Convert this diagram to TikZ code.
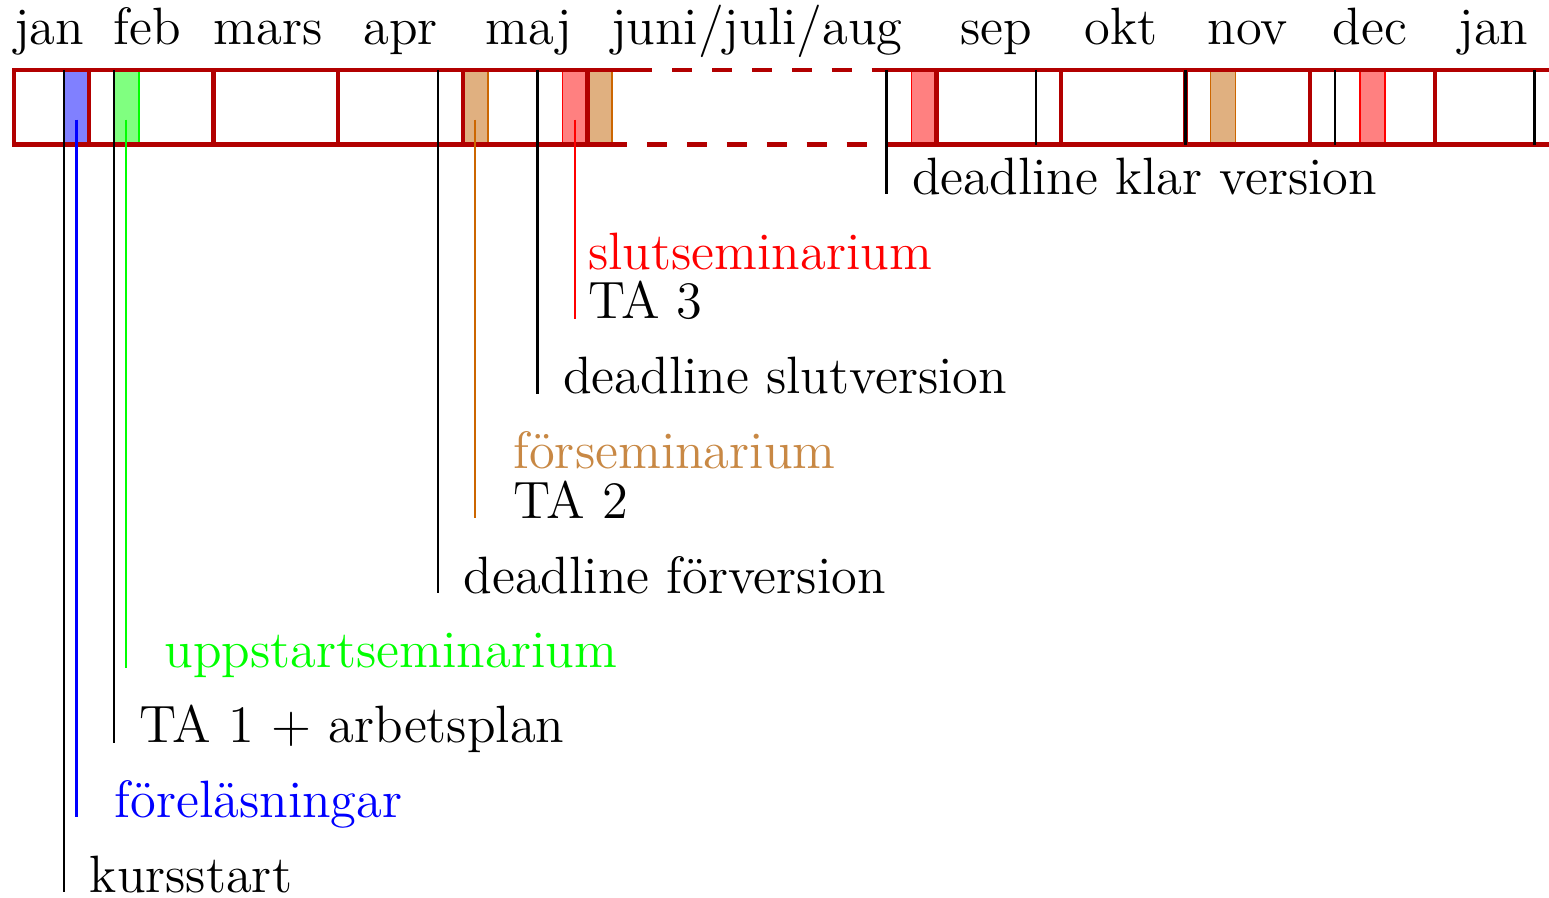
\documentclass[12pt,tikz,border=0pt]{standalone}
\usepackage{fontspec}
\usepackage{tikz}
\usetikzlibrary{positioning,calc}

\definecolor{barred}{rgb}{0.7,0,0}
\definecolor{semline}{RGB}{204,102,0}
\definecolor{semfill}{RGB}{224,176,128}
\definecolor{semtext}{RGB}{200,136,68}

\begin{document}
\begin{tikzpicture}[
  every node/.style={inner sep=0pt},
  lbl/.style={anchor=base west},
  month/.style={anchor=base},
  bar/.style={line width=1pt, barred},
  summer/.style={bar, dash pattern=on 0.16cm off 0.16cm},
  tick/.style={line width=0.5pt},
]
  \useasboundingbox (0.286,-6.04) rectangle (12.717,1.16);

  % seminar weeks
  \filldraw[draw=blue, fill=blue!50] (0.8,0) rectangle (1.0,0.6);
  \filldraw[draw=green, fill=green!50] (1.2,0) rectangle (1.4,0.6);
  \filldraw[draw=semline, fill=semfill] (4.0,0) rectangle (4.2,0.6);
  \filldraw[draw=red, fill=red!50] (4.8,0) rectangle (5.0,0.6);
  \filldraw[draw=semline, fill=semfill] (5.0,0) rectangle (5.2,0.6);
  \filldraw[draw=red, fill=red!50] (7.6,0) rectangle (7.8,0.6);
  \filldraw[draw=semline, fill=semfill] (10.0,0) rectangle (10.2,0.6);
  \filldraw[draw=red, fill=red!50] (11.2,0) rectangle (11.4,0.6);

  % months
  \foreach \a/\b in {0.4/1,1/2,2/3,3/4,4/5,7.8/8.8,8.8/9.8,9.8/10.8,10.8/11.8,11.8/12.8}
    \draw[bar] (\a,0) rectangle (\b,0.6);
  \draw[bar] (5,0.6) -- (5.52,0.6) (7.28,0.6) -- (7.8,0.6);
  \draw[bar] (5,0) -- (5.32,0) (7.4,0) -- (7.8,0);
  \draw[summer] (5.68,0.6) -- (7.12,0.6);
  \draw[summer] (5.48,0) -- (7.24,0);

  \foreach \x/\m [count=\i] in {0.68/jan,1.47/feb,2.44/mars,3.5/apr,4.53/maj,
      6.36/{juni/juli/aug},8.28/sep,9.28/okt,10.3/nov,11.28/dec,12.27/jan}
    \node[month] (m\i) at (\x,0.8) {\m};

  % events
  \node[lbl] (kursstart) at (1.0,-6.0) {kursstart};
  \node[lbl, blue] (forel) at (1.2,-5.4) {föreläsningar};
  \node[lbl] (ta1) at (1.4,-4.8) {TA 1 $+$ arbetsplan};
  \node[lbl, green] (uppstart) at (1.6,-4.2) {uppstartseminarium};
  \node[lbl] (forversion) at (4.0,-3.6) {deadline förversion};
  \node[lbl] (ta2) at (4.4,-3.0) {TA 2};
  \node[lbl, semtext] (forsem) at (4.4,-2.6) {förseminarium};
  \node[lbl] (slutversion) at (4.8,-2.0) {deadline slutversion};
  \node[lbl] (ta3) at (5.0,-1.4) {TA 3};
  \node[lbl, red] (slutsem) at (5.0,-1.0) {slutseminarium};
  \node[lbl] (klar) at (7.6,-0.4) {deadline klar version};

  \coordinate (kursstart top) at (0.8,0.6);
  \coordinate (forel top) at (0.9,0.2);
  \coordinate (ta1 top) at (1.2,0.6);
  \coordinate (uppstart top) at (1.3,0.2);
  \coordinate (forversion top) at (3.8,0.6);
  \coordinate (ta2 top) at (4.1,0.2);
  \coordinate (slutversion top) at (4.6,0.6);
  \coordinate (ta3 top) at (4.9,0.2);
  \coordinate (klar top) at (7.4,0.6);

  \draw[tick] (kursstart top) -- (kursstart top |- kursstart.base);
  \draw[tick, blue] (forel top) -- (forel top |- forel.base);
  \draw[tick] (ta1 top) -- (ta1 top |- ta1.base);
  \draw[tick, green] (uppstart top) -- (uppstart top |- uppstart.base);
  \draw[tick] (forversion top) -- (forversion top |- forversion.base);
  \draw[tick, semline] (ta2 top) -- (ta2 top |- ta2.base);
  \draw[tick] (slutversion top) -- (slutversion top |- slutversion.base);
  \draw[tick, red] (ta3 top) -- (ta3 top |- ta3.base);
  \draw[tick] (klar top) -- (klar top |- klar.base);

  % other deadlines inside the bar
  \foreach \x in {8.6,9.8,11.0,12.6}
    \draw[tick] (\x,0.6) -- (\x,0);
\end{tikzpicture}
\end{document}
